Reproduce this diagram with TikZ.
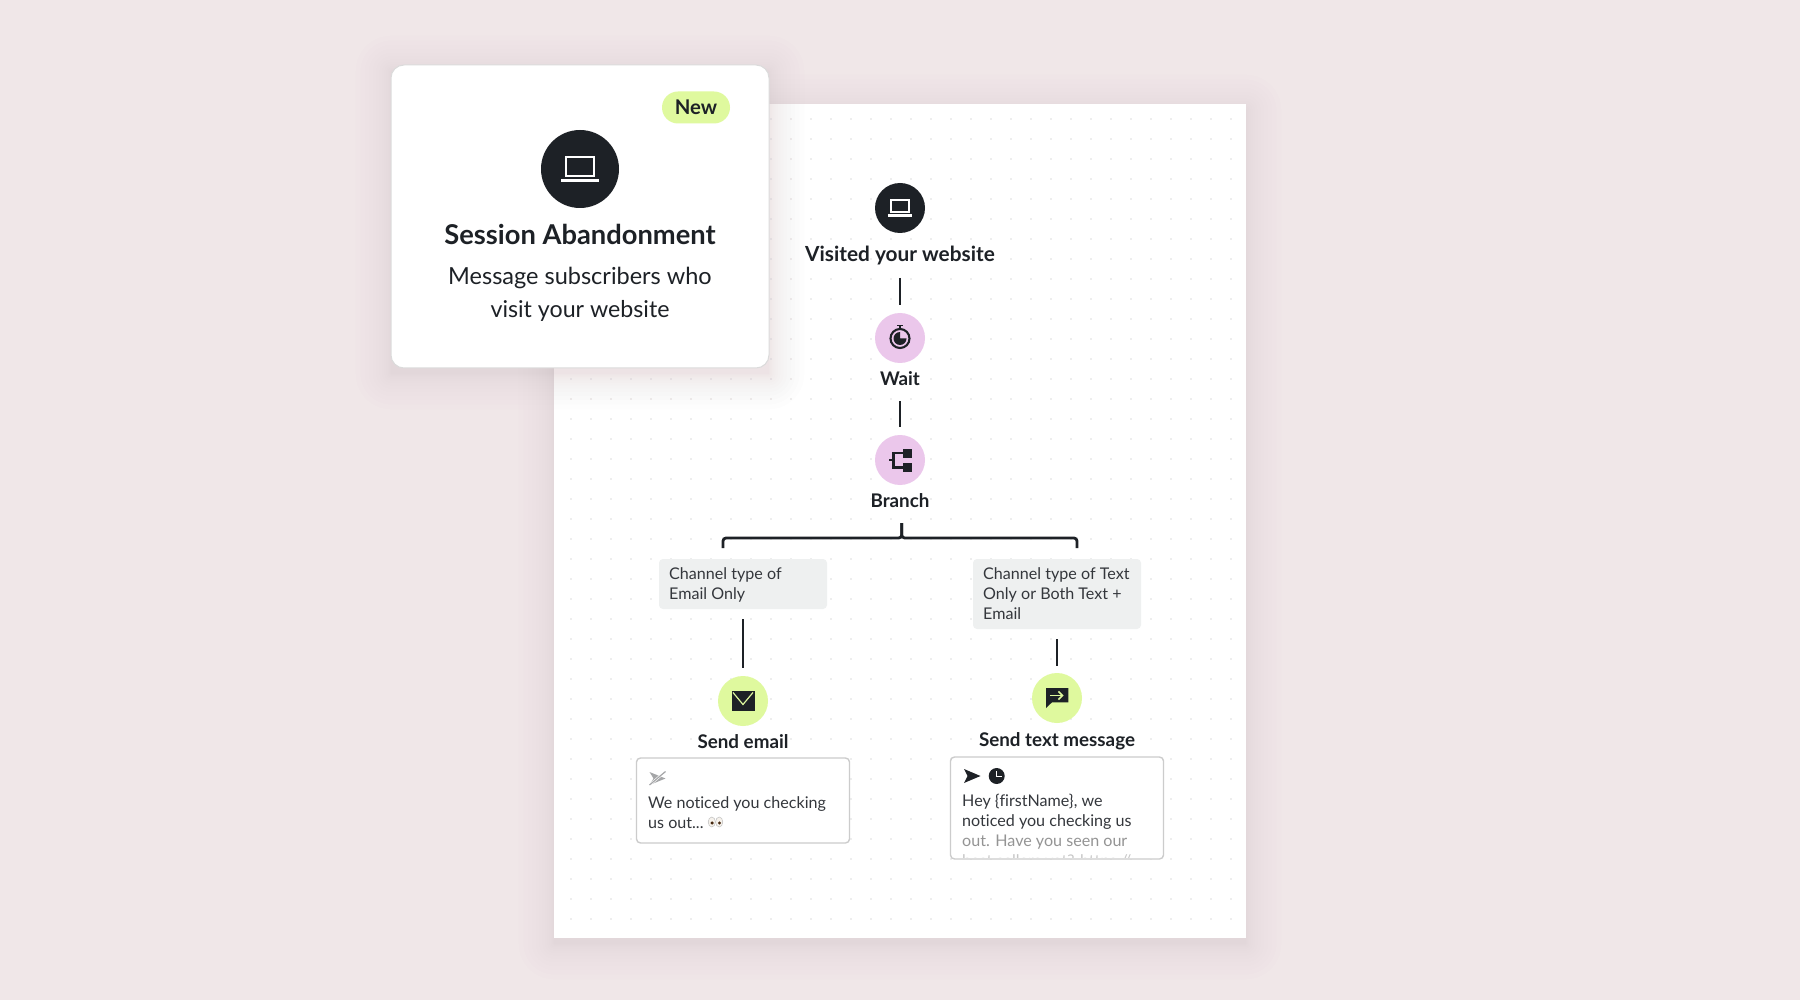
\documentclass[tikz,border=0pt]{standalone}
\usepackage{fontspec}
\setmainfont{Lato}[Ligatures=NoCommon]
\usetikzlibrary{arrows.meta, calc}
\definecolor{pagerose}{RGB}{240,231,232}
\definecolor{inkdark}{RGB}{29,33,38}
\definecolor{waitpink}{RGB}{235,199,235}
\definecolor{sendlime}{RGB}{223,249,158}
\definecolor{condgray}{RGB}{238,240,240}
\definecolor{griddot}{RGB}{238,238,238}
\definecolor{boxedge}{RGB}{204,204,204}
\definecolor{shadowtone}{RGB}{120,100,105}
\definecolor{eyewhite}{RGB}{246,242,236}
\definecolor{eyepupil}{RGB}{70,40,15}
\tikzset{
  iconblk/.style={circle, fill=#1, minimum size=50pt, inner sep=0pt, outer sep=0pt},
  steplbl/.style={anchor=base, inner sep=0pt, outer sep=0pt, text depth=4pt,
    text=inkdark, font=\fontsize{18.8}{23}\selectfont\bfseries},
  condblk/.style={fill=condgray, rounded corners=4pt, minimum width=168pt, inner sep=0pt},
  condtxt/.style={anchor=base west, inner sep=0pt, text=inkdark!90,
    font=\fontsize{16.1}{20}\selectfont},
  msgblk/.style={draw=boxedge, line width=1.4pt, fill=white, rounded corners=4pt,
    minimum width=213pt, inner sep=0pt},
  link/.style={draw=inkdark, line width=2.8pt},
  laptop/.pic={
    \draw[white, line width=2pt] (-14,-12) rectangle (14,7);
    \draw[white, line width=2.4pt] (-19,11.5) -- (19,11.5);
  },
}
\def\Cx{900}
\def\Lx{743}
\def\Rx{1057}

\begin{document}
\begin{tikzpicture}[x=1pt, y=-1pt]
\useasboundingbox (0,0) rectangle (1800,1000);
\fill[pagerose] (0,0) rectangle (1800,1000);

% --- soft shadow of the panel ---
\foreach \i in {1,...,14} {
  \pgfmathsetmacro{\s}{0.18*\i*\i}
  \fill[shadowtone, opacity=0.009, rounded corners=\s pt]
    ({554-\s},{110-\s}) rectangle ({1246+\s},{944+\s});
}
\fill[white] (554,104) rectangle (1246,938);

% dots on the panel
\foreach \i in {0,...,33} {
  \foreach \j in {0,...,40} {
    \fill[griddot] ({571+20*\i-1},{119+20*\j-1}) rectangle ++(2.2,2.2);
  }
}

% --- soft shadow of the card ---
\foreach \i in {1,...,14} {
  \pgfmathsetmacro{\s}{0.18*\i*\i}
  \fill[shadowtone, opacity=0.009, rounded corners=\s pt]
    ({391-\s},{71-\s}) rectangle ({769+\s},{374+\s});
}

% =====================================================================
%  CARD
% =====================================================================
\node[draw=boxedge!70, line width=1pt, fill=white, rounded corners=13pt, inner sep=0pt,
      minimum width=378pt, minimum height=303pt] (card) at (580,216.5) {};
\node[fill=sendlime, rounded corners=16pt, minimum width=68pt, minimum height=32pt,
      inner sep=0pt, text=inkdark, font=\fontsize{20.3}{24}\selectfont\bfseries] (newtag)
      at (696,107.5) {New};
\node[iconblk=inkdark, minimum size=78pt] (bigicon) at (580,169) {};
\pic at (bigicon) {laptop};
\node[anchor=base, inner sep=0pt, text=inkdark, font=\fontsize{27.3}{32}\selectfont\bfseries]
      (cardtitle) at (580,244.5) {Session Abandonment};
\node[anchor=base, inner sep=0pt, text=inkdark, font=\fontsize{23.5}{28}\selectfont]
      (cardline1) at (580,285) {Message subscribers who};
\node[anchor=base, inner sep=0pt, text=inkdark, font=\fontsize{23.2}{28}\selectfont]
      (cardline2) at (580,318) {visit your website};

% =====================================================================
%  FLOW
% =====================================================================

% Trigger
\node[iconblk=inkdark] (visit) at (\Cx,208) {};
\pic[scale=0.64] at (visit) {laptop};
\node[steplbl, font=\fontsize{20.8}{25}\selectfont\bfseries] (visitlbl) at (\Cx,261.5) {Visited your website};

% Wait
\node[iconblk=waitpink] (wait) at (\Cx,338) {};
\begin{scope}[shift={(wait.center)}]
  \draw[inkdark, line width=2.1pt] (0,0.5) circle (9.5);
  \fill[inkdark] (0,0.5) -- (0,-6) arc[start angle=-90, end angle=-360, radius=6.5] -- cycle;
  \draw[inkdark, line width=1.6pt] (0,-12.5) -- (0,-9);
  \draw[inkdark, line width=1.6pt] (-3,-12.5) -- (3,-12.5);
\end{scope}
\node[steplbl] (waitlbl) at (\Cx,385) {Wait};

% Branch
\node[iconblk=waitpink] (branch) at (\Cx,460) {};
\begin{scope}[shift={(branch.center)}]
  \fill[inkdark] (2.5,-11) rectangle (11.5,-2.3);
  \fill[inkdark] (2.5,2.7) rectangle (11.5,11.5);
  \draw[inkdark, line width=2.5pt] (2.5,-7) -- (-6.5,-7) -- (-6.5,7.5) -- (2.5,7.5);
  \draw[inkdark, line width=2.5pt] (-11,0) -- (-6.5,0);
\end{scope}
\node[steplbl] (branchlbl) at (\Cx,507) {Branch};

% Conditions
\node[condblk, minimum height=50pt] (condL) at (\Lx,584) {};
\node[condtxt] (condL1) at (669,579) {Channel type of};
\node[condtxt] (condL2) at (669,599) {Email Only};
\node[condblk, minimum height=70pt] (condR) at (\Rx,594) {};
\node[condtxt] (condR1) at (983,579) {Channel type of Text};
\node[condtxt] (condR2) at (983,599) {Only or Both Text +};
\node[condtxt] (condR3) at (983,619) {Email};

% Send email
\node[iconblk=sendlime] (sendmail) at (\Lx,701) {};
\begin{scope}[shift={(sendmail.center)}]
  \fill[inkdark] (-11.5,-10) rectangle (11.5,10);
  \draw[sendlime, line width=1.2pt] (-10,-8.5) -- (0,3.5) -- (10,-8.5);
\end{scope}
\node[steplbl] (sendmaillbl) at (\Lx,748) {Send email};

% Send text
\node[iconblk=sendlime] (sendtext) at (\Rx,698) {};
\begin{scope}[shift={(sendtext.center)}]
  \fill[inkdark] (-11,-10) -- (11.3,-10) -- (11.3,4.3) -- (-5,4.3) -- (-11,10) -- cycle;
  \draw[sendlime, line width=1.5pt, -{Straight Barb[length=4pt, width=8pt]}] (-7,-2.5) -- (6.5,-2.5);
\end{scope}
\node[steplbl] (sendtextlbl) at (\Rx,746) {Send text message};

% --- Connectors ---
\draw[link, shorten <=12.5pt, shorten >=8pt] (visitlbl) -- (wait);
\draw[link, shorten <=12pt, shorten >=8pt] (waitlbl) -- (branch);
\draw[link, shorten <=10pt, shorten >=8pt] (condL) -- (sendmail);
\draw[link, shorten <=10pt, shorten >=7pt] (condR) -- (sendtext);

% bracket under Branch
\coordinate (forktop) at (901.7,523);
\coordinate (forkmid) at (901.7,538);
\coordinate (legL) at (723,548);
\coordinate (legR) at (1077,548);
\draw[link, rounded corners=3pt] (legL) |- (forkmid) -- (forktop);
\draw[link, rounded corners=3pt] (legR) |- (forkmid) -- (forktop);

% =====================================================================
%  MESSAGE PREVIEWS
% =====================================================================
\node[msgblk, minimum height=85pt] (mailbox) at (743,800.5) {};
\begin{scope}[shift={(657.5,778.5)}]
  \fill[inkdark!40] (-8,-6.5) -- (8,0) -- (-8,6.5) -- (-4,0) -- cycle;
  \draw[white, line width=2.4pt] (-8,6.5) -- (8,-7);
  \draw[inkdark!40, line width=1.2pt] (-8,6.5) -- (8,-7);
\end{scope}
\node[condtxt] (mailtxt1) at (648,808) {We noticed you checking};
\node[condtxt] (mailtxt2) at (648,828) {us out...};
% eyes
\begin{scope}[shift={(715.5,822)}]
  \filldraw[fill=eyewhite, draw=black!25, line width=0.5pt] (-3.7,0) ellipse (3.6 and 5);
  \filldraw[fill=eyewhite, draw=black!25, line width=0.5pt] (3.7,0) ellipse (3.6 and 5);
  \fill[eyepupil] (-3.4,1) circle (1.7);
  \fill[eyepupil] (4,1) circle (1.7);
\end{scope}

\node[msgblk, minimum height=102pt] (textbox) at (1057,808) {};
\begin{scope}
  \clip (952,760) rectangle (1162,857.5);
  \node[condtxt] (texttxt1) at (962,806) {Hey \{firstName\}, we};
  \node[condtxt] (texttxt2) at (962,826) {noticed you checking us};
  \node[condtxt, text=black!42] (texttxt3) at (962,846) {out. Have you seen our};
  \node[condtxt, text=black!22] (texttxt4) at (962,866) {best sellers yet? https://};
\end{scope}
\fill[inkdark] (964,769) -- (980.5,776) -- (964,783) -- (967.5,776) -- cycle;
\fill[inkdark] (996.7,776) circle (8);
\draw[white, line width=1.4pt] (996.7,771) -- (996.7,776.5) -- (1001.5,776.5);

\end{tikzpicture}
\end{document}
